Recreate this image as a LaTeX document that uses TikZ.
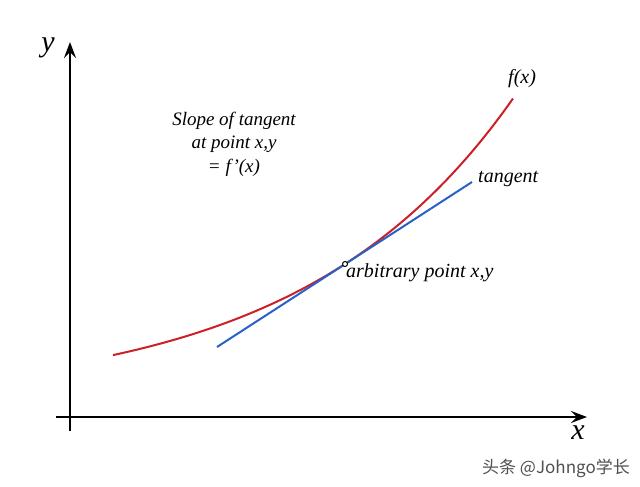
\documentclass[tikz,border=0pt]{standalone}
\usepackage{fontspec}
\setmainfont{Liberation Serif}
\newfontfamily\cjkfont{Noto Sans CJK SC}
\usetikzlibrary{arrows.meta,positioning}
\definecolor{curvered}{RGB}{204,32,39}
\definecolor{tanblue}{RGB}{38,98,200}
\definecolor{markgray}{RGB}{80,80,80}

\begin{document}
\begin{tikzpicture}[x=1pt,y=-1pt,
    axis/.style={line width=2pt, -{Stealth[length=16pt,width=12pt,inset=6pt]}},
    lbl/.style={font=\fontsize{20}{24}\selectfont\itshape, inner sep=0pt},
    note/.style={font=\fontsize{19}{23.5}\selectfont\itshape, align=center, inner sep=0pt},
    axlbl/.style={font=\fontsize{30}{30}\selectfont\itshape, inner sep=0pt}
  ]
  \useasboundingbox (0,0) rectangle (640,487);
  % axes
  \coordinate (ybot) at (70,431);
  \coordinate (ytip) at (70,42);
  \coordinate (xleft) at (56,417);
  \coordinate (xtip) at (587,417);
  \draw[axis] (ybot)--(ytip);
  \draw[axis] (xleft)--(xtip);
  \node[axlbl] (ylab) at (48,48) {y};
  \node[axlbl] (xlab) at (578,433) {x};
  % f(x) and the tangent
  \draw[curvered, line width=2pt] plot[domain=-232:168, samples=80, smooth]
    ({345+\x},{264-137*(exp(0.00472*\x)-1)});
  \coordinate (tstart) at (217,347);
  \coordinate (tend) at (472,182);
  \draw[tanblue, line width=2pt] (tstart)--(tend);
  \node[circle, draw, fill=white, line width=1pt, inner sep=0pt,
        minimum size=5pt] (pt) at (345,264) {};
  % labels
  \node[lbl, anchor=base west] (fx) at (508,84) {f(x)};
  \node[lbl, anchor=base west] (tan) at (478,182) {tangent};
  \node[lbl, anchor=base west] (arb) at (346,277) {arbitrary point x,y};
  \node[note] (slope) at (234,144) {Slope of tangent\\at point x,y\\= f’(x)};
  \node[font=\cjkfont\fontsize{17}{17}\selectfont, text=markgray, inner sep=0pt,
        anchor=base west] (mark) at (482,473) {头条 @Johngo学长};
\end{tikzpicture}
\end{document}
